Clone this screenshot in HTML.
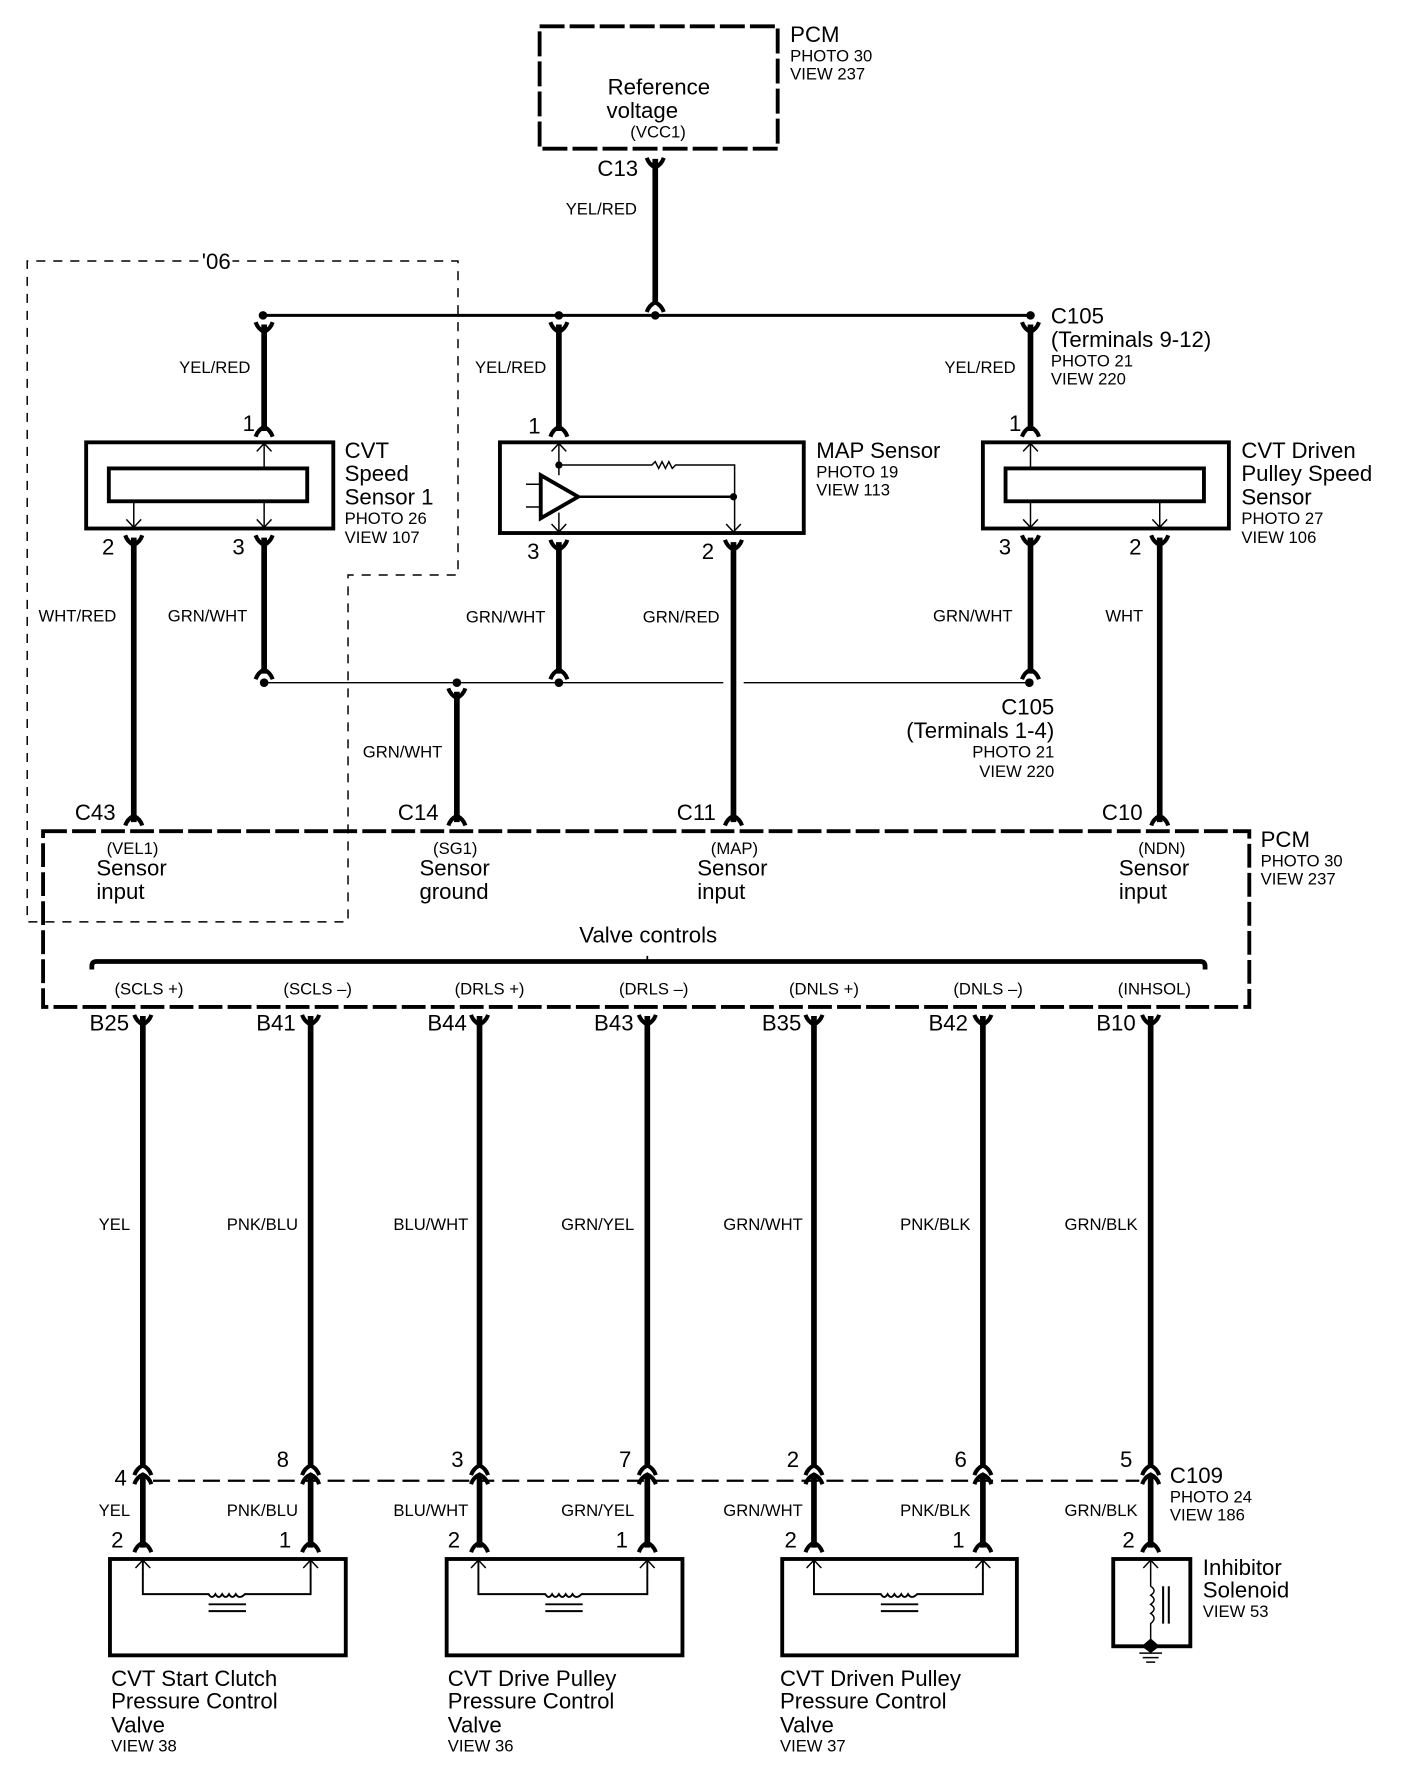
<!DOCTYPE html>
<html><head><meta charset="utf-8"><style>
html,body{margin:0;padding:0;background:#fff}
svg{display:block}
text{font-family:"Liberation Sans",sans-serif;fill:#000;font-size:19.6px}
.s{font-size:14.7px}
.r{text-anchor:end}
</style></head><body>
<svg width="1408" height="1778" viewBox="0 0 1242 1568" xmlns="http://www.w3.org/2000/svg">
<defs>
<path id="y" d="M-7.500 0Q-5.500 6 0 8.500Q5.500 6 7.500 0" fill="none" stroke="#000" stroke-width="3.600"/>
<path id="c" d="M-7.500 0Q-5.500-6 0-8.500Q5.500-6 7.500 0" fill="none" stroke="#000" stroke-width="3.600"/>
<path id="au" d="M-6.500 7L0 0L6.500 7" fill="none" stroke="#000" stroke-width="1.300"/>
<path id="ad" d="M-6.500-7L0 0L6.500-7" fill="none" stroke="#000" stroke-width="1.300"/>
</defs>
<g fill="none" stroke="#000">
<!-- PCM boxes -->
<rect x="476" y="23" width="210" height="108" stroke-width="3.400" stroke-dasharray="22 4.500"/>
<rect x="38" y="733" width="1064" height="155" stroke-width="3.400" stroke-dasharray="21 4.600"/>
<!-- 06 dashed -->
<path d="M175 230H24V813H307V507H404V230H205" stroke-width="1.300" stroke-dasharray="8 7"/>
<!-- main bus -->
<path d="M232 278H909" stroke-width="2.600"/>
<path d="M233 602H638M656 602H908" stroke-width="1.200"/>
<!-- heavy wires -->
<g stroke-width="5">
<path d="M578 140V268M233 286V380M493 286V380M118 474V725M403 610V725M647 478V725M1023 474V725M233 474V594M493 478V594"/>
<path d="M909 474V594M909 286V380"/>
<path d="M126 896V1294M274 896V1294M423 896V1294M571 896V1294M718 896V1294M867 896V1294M1015 896V1294"/>
<path d="M126 1301V1365M274 1301V1365M423 1301V1365M571 1301V1365M718 1301V1365M867 1301V1365M1015 1301V1365"/>
</g>
<path d="M135 1306H1005" stroke-width="2" stroke-dasharray="15 7"/>
<!-- bracket -->
<path d="M81 855V852Q81 848 85 848H1059Q1063 848 1063 852V855" stroke-width="4.200"/>
<path d="M571 848V843" stroke-width="1.500"/>
<!-- sensor boxes -->
<g stroke-width="3.400">
<rect x="76" y="390" width="218" height="76"/>
<rect x="96" y="413" width="175" height="29"/>
<rect x="441" y="390" width="268" height="80"/>
<rect x="867" y="390" width="217" height="76"/>
<rect x="887" y="413" width="175" height="29"/>
<rect x="97" y="1375" width="208" height="85"/>
<rect x="394" y="1375" width="208" height="85"/>
<rect x="690" y="1375" width="207" height="85"/>
<rect x="982" y="1375" width="68" height="77"/>
<path d="M477 419V457L510 438Z"/>
</g>
<!-- thin internal -->
<g stroke-width="1.300">
<path d="M233 392V413M118 442V465M233 442V465M909 392V413M909 442V465M1023 442V465"/>
<path d="M493 392V419M493 452V468M493 410H575L578 407L581 413L584 407L587 413L590 407L593 413L596 410H648V468"/>
<path d="M464 427H477M464 447H477"/>
<path d="M1015 1377V1399Q1021 1403 1015 1407Q1021 1411 1015 1415Q1021 1419 1015 1423Q1021 1427 1015 1432V1447"/>
<path d="M1005 1458H1025M1008 1462H1022M1011 1466H1019"/>
</g>
<path d="M1026 1399V1432M1031 1399V1432" stroke-width="1.800"/>
<path d="M510 438H647" stroke-width="2.200"/>
<!-- valve internals -->
<g stroke-width="1.700">
<path d="M126 1377V1406H184Q187 1411 190 1406Q193 1411 196 1406Q199 1411 202 1406Q205 1411 208 1406Q211 1411 216 1406H274V1377"/>
<path d="M184 1415H217M184 1421H217"/>
<path d="M422 1377V1406H481Q484 1411 487 1406Q490 1411 493 1406Q496 1411 499 1406Q502 1411 505 1406Q508 1411 513 1406H571V1377"/>
<path d="M481 1415H514M481 1421H514"/>
<path d="M718 1377V1406H777Q780 1411 783 1406Q786 1411 789 1406Q792 1411 795 1406Q798 1411 801 1406Q804 1411 809 1406H867V1377"/>
<path d="M777 1415H810M777 1421H810"/>
</g>
</g>
<!-- dots -->
<g fill="#000">
<circle cx="232" cy="278" r="3.800"/><circle cx="493" cy="278" r="3.800"/><circle cx="578" cy="278" r="3.800"/><circle cx="909" cy="278" r="3.800"/>
<circle cx="233" cy="602" r="3.800"/><circle cx="403" cy="602" r="3.800"/><circle cx="493" cy="602" r="3.800"/><circle cx="908" cy="602" r="3.800"/>
<circle cx="493" cy="410" r="3.200"/><circle cx="647" cy="438" r="3.200"/>
<path d="M1015 1445L1023 1452L1015 1458L1007 1452Z"/>
</g>
<!-- connector forks -->
<use href="#y" x="578" y="139"/><use href="#c" x="578" y="275"/>
<use href="#y" x="233" y="284"/><use href="#y" x="493" y="284"/><use href="#y" x="909" y="284"/>
<use href="#c" x="233" y="385"/><use href="#c" x="493" y="385"/><use href="#c" x="909" y="385"/>
<use href="#y" x="118" y="472"/><use href="#y" x="233" y="472"/><use href="#y" x="493" y="476"/><use href="#y" x="647" y="476"/><use href="#y" x="909" y="472"/><use href="#y" x="1023" y="472"/>
<use href="#c" x="233" y="599"/><use href="#c" x="493" y="599"/><use href="#c" x="909" y="599"/><use href="#y" x="403" y="607"/>
<use href="#c" x="118" y="728"/><use href="#c" x="403" y="728"/><use href="#c" x="647" y="728"/><use href="#c" x="1023" y="728"/>
<use href="#y" x="126" y="895"/><use href="#y" x="274" y="895"/><use href="#y" x="423" y="895"/><use href="#y" x="571" y="895"/><use href="#y" x="718" y="895"/><use href="#y" x="867" y="895"/><use href="#y" x="1015" y="895"/>
<use href="#c" x="126" y="1301"/><use href="#c" x="274" y="1301"/><use href="#c" x="423" y="1301"/><use href="#c" x="571" y="1301"/><use href="#c" x="718" y="1301"/><use href="#c" x="867" y="1301"/><use href="#c" x="1015" y="1301"/>
<use href="#c" x="126" y="1309"/><use href="#c" x="274" y="1309"/><use href="#c" x="423" y="1309"/><use href="#c" x="571" y="1309"/><use href="#c" x="718" y="1309"/><use href="#c" x="867" y="1309"/><use href="#c" x="1015" y="1309"/>
<use href="#c" x="126" y="1369"/><use href="#c" x="274" y="1369"/><use href="#c" x="423" y="1369"/><use href="#c" x="571" y="1369"/><use href="#c" x="718" y="1369"/><use href="#c" x="867" y="1369"/><use href="#c" x="1015" y="1369"/>
<!-- internal arrows -->
<use href="#au" x="233" y="391"/><use href="#au" x="493" y="391"/><use href="#au" x="909" y="391"/>
<use href="#ad" x="118" y="465"/><use href="#ad" x="233" y="465"/><use href="#ad" x="493" y="469"/><use href="#ad" x="647" y="469"/><use href="#ad" x="909" y="465"/><use href="#ad" x="1023" y="465"/>
<use href="#au" x="126" y="1376"/><use href="#au" x="274" y="1376"/><use href="#au" x="422" y="1376"/><use href="#au" x="571" y="1376"/><use href="#au" x="718" y="1376"/><use href="#au" x="867" y="1376"/><use href="#au" x="1015" y="1376"/>
<!-- labels -->
<text x="697" y="37">PCM</text><text class="s" x="697" y="54">PHOTO 30</text><text class="s" x="697" y="70">VIEW 237</text>
<text x="536" y="83">Reference</text><text x="535" y="104">voltage</text><text class="s" x="556" y="121">(VCC1)</text>
<text x="527" y="155">C13</text><text class="s" x="499" y="189">YEL/RED</text>
<text x="178" y="237">'06</text>
<text class="s" x="158" y="329">YEL/RED</text><text class="s" x="419" y="329">YEL/RED</text><text class="s" x="833" y="329">YEL/RED</text>
<text x="927" y="285">C105</text><text x="927" y="306">(Terminals 9-12)</text><text class="s" x="927" y="323">PHOTO 21</text><text class="s" x="927" y="339">VIEW 220</text>
<text x="214" y="380">1</text><text x="466" y="382">1</text><text x="890" y="380">1</text>
<text x="304" y="404">CVT</text><text x="304" y="424">Speed</text><text x="304" y="445">Sensor 1</text><text class="s" x="304" y="462">PHOTO 26</text><text class="s" x="304" y="479">VIEW 107</text>
<text x="720" y="404">MAP Sensor</text><text class="s" x="720" y="421">PHOTO 19</text><text class="s" x="720" y="437">VIEW 113</text>
<text x="1095" y="404">CVT Driven</text><text x="1095" y="424">Pulley Speed</text><text x="1095" y="445">Sensor</text><text class="s" x="1095" y="462">PHOTO 27</text><text class="s" x="1095" y="479">VIEW 106</text>
<text x="90" y="489">2</text><text x="205" y="489">3</text><text x="465" y="493">3</text><text x="619" y="493">2</text><text x="881" y="489">3</text><text x="996" y="489">2</text>
<text class="s" x="34" y="548">WHT/RED</text><text class="s" x="148" y="548">GRN/WHT</text><text class="s" x="411" y="549">GRN/WHT</text><text class="s" x="567" y="549">GRN/RED</text><text class="s" x="823" y="548">GRN/WHT</text><text class="s" x="975" y="548">WHT</text>
<text class="r" x="930" y="630">C105</text><text class="r" x="930" y="651">(Terminals 1-4)</text><text class="s r" x="930" y="668">PHOTO 21</text><text class="s r" x="930" y="685">VIEW 220</text>
<text class="s" x="320" y="668">GRN/WHT</text>
<text x="66" y="723">C43</text><text x="351" y="723">C14</text><text x="597" y="723">C11</text><text x="972" y="723">C10</text>
<text class="s" x="94" y="753">(VEL1)</text><text x="85" y="772">Sensor</text><text x="85" y="793">input</text>
<text class="s" x="382" y="753">(SG1)</text><text x="370" y="772">Sensor</text><text x="370" y="793">ground</text>
<text class="s" x="627" y="753">(MAP)</text><text x="615" y="772">Sensor</text><text x="615" y="793">input</text>
<text class="s" x="1004" y="753">(NDN)</text><text x="987" y="772">Sensor</text><text x="987" y="793">input</text>
<text x="1112" y="747">PCM</text><text class="s" x="1112" y="764">PHOTO 30</text><text class="s" x="1112" y="780">VIEW 237</text>
<text x="511" y="831">Valve controls</text>
<text class="s" x="101" y="877">(SCLS +)</text><text class="s" x="250" y="877">(SCLS –)</text><text class="s" x="401" y="877">(DRLS +)</text><text class="s" x="546" y="877">(DRLS –)</text><text class="s" x="696" y="877">(DNLS +)</text><text class="s" x="841" y="877">(DNLS –)</text><text class="s" x="986" y="877">(INHSOL)</text>
<text x="79" y="909">B25</text><text x="226" y="909">B41</text><text x="377" y="909">B44</text><text x="524" y="909">B43</text><text x="672" y="909">B35</text><text x="819" y="909">B42</text><text x="967" y="909">B10</text>
<text class="s" x="87" y="1085">YEL</text><text class="s" x="200" y="1085">PNK/BLU</text><text class="s" x="347" y="1085">BLU/WHT</text><text class="s" x="495" y="1085">GRN/YEL</text><text class="s" x="638" y="1085">GRN/WHT</text><text class="s" x="794" y="1085">PNK/BLK</text><text class="s" x="939" y="1085">GRN/BLK</text>
<text x="244" y="1294">8</text><text x="398" y="1294">3</text><text x="546" y="1294">7</text><text x="694" y="1294">2</text><text x="842" y="1294">6</text><text x="988" y="1294">5</text><text x="101" y="1310">4</text>
<text x="1032" y="1308">C109</text><text class="s" x="1032" y="1325">PHOTO 24</text><text class="s" x="1032" y="1341">VIEW 186</text>
<text class="s" x="87" y="1337">YEL</text><text class="s" x="200" y="1337">PNK/BLU</text><text class="s" x="347" y="1337">BLU/WHT</text><text class="s" x="495" y="1337">GRN/YEL</text><text class="s" x="638" y="1337">GRN/WHT</text><text class="s" x="794" y="1337">PNK/BLK</text><text class="s" x="939" y="1337">GRN/BLK</text>
<text x="98" y="1365">2</text><text x="246" y="1365">1</text><text x="395" y="1365">2</text><text x="543" y="1365">1</text><text x="692" y="1365">2</text><text x="840" y="1365">1</text><text x="990" y="1365">2</text>
<text x="98" y="1487">CVT Start Clutch</text><text x="98" y="1507">Pressure Control</text><text x="98" y="1528">Valve</text><text class="s" x="98" y="1545">VIEW 38</text>
<text x="395" y="1487">CVT Drive Pulley</text><text x="395" y="1507">Pressure Control</text><text x="395" y="1528">Valve</text><text class="s" x="395" y="1545">VIEW 36</text>
<text x="688" y="1487">CVT Driven Pulley</text><text x="688" y="1507">Pressure Control</text><text x="688" y="1528">Valve</text><text class="s" x="688" y="1545">VIEW 37</text>
<text x="1061" y="1389">Inhibitor</text><text x="1061" y="1409">Solenoid</text><text class="s" x="1061" y="1426">VIEW 53</text>
</svg>
</body></html>
